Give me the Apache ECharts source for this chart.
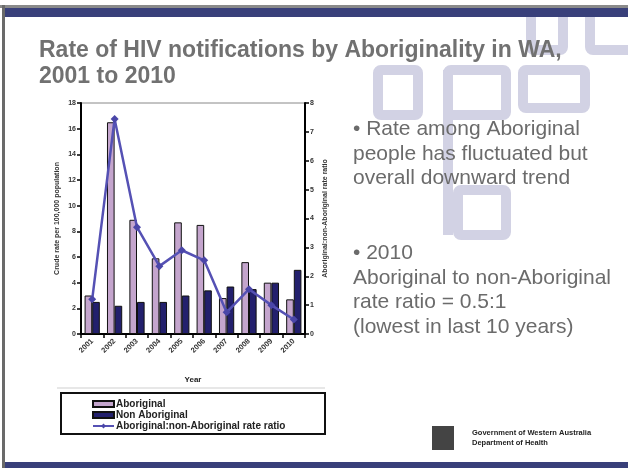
<!DOCTYPE html>
<html><head><meta charset="utf-8">
<script src="https://cdn.jsdelivr.net/npm/echarts@6/dist/echarts.min.js"></script>
<style>html,body{margin:0;padding:0;background:#fff}#c{width:628px;height:468px}</style>
</head><body><div id="c"></div>
<script>
const years = ['2001','2002','2003','2004','2005','2006','2007','2008','2009','2010'];
const aboriginal = [3.0, 16.5, 8.9, 5.9, 8.7, 8.5, 2.8, 5.6, 4.0, 2.7];
const nonAboriginal = [2.5, 2.2, 2.5, 2.5, 3.0, 3.4, 3.7, 3.5, 4.0, 5.0];
const rateRatio = [1.2, 7.45, 3.7, 2.35, 2.9, 2.55, 0.75, 1.55, 1.0, 0.5];
const leftTicks = {min: 0, max: 18, interval: 2};
const rightTicks = {min: 0, max: 8, interval: 1};
const title = ['Rate of HIV notifications by Aboriginality in WA,', '2001 to 2010'];
const bullets = ['\u2022 Rate among Aboriginal', 'people has fluctuated but', 'overall downward trend'];
const bullets2 = ['\u2022 2010', 'Aboriginal to non-Aboriginal', 'rate ratio = 0.5:1', '(lowest in last 10 years)'];

const chart = echarts.init(document.getElementById('c'), null, {renderer: 'canvas'});
const wm = '#d2d2e4';
function box(x, y, w, h) {
  return {type: 'rect', z: -10, shape: {x: x, y: y, width: w, height: h, r: 3},
    style: {fill: 'none', stroke: wm, lineWidth: 10}};
}
const gfx = [
  // slide frame
  {type: 'rect', shape: {x: 0, y: 5, width: 628, height: 3}, style: {fill: '#8a8a8a'}},
  {type: 'rect', shape: {x: 5, y: 8, width: 623, height: 9}, style: {fill: '#39407a'}},
  {type: 'rect', shape: {x: 2, y: 5, width: 3, height: 463}, style: {fill: '#6a6a6a'}},
  {type: 'rect', shape: {x: 5, y: 462, width: 623, height: 6}, style: {fill: '#39407a'}},
  // watermark shapes
  box(378, 70, 40, 45),
  box(448, 70, 58, 45),
  box(523, 70, 62, 38),
  box(458, 190, 48, 45),
  {type: 'rect', z: -10, shape: {x: 443, y: 70, width: 10, height: 165}, style: {fill: wm}},
  box(531, 10, 32, 40),
  box(590, 10, 50, 40),
  // title
  {type: 'text', left: 39, top: 39, style: {text: title[0], font: 'bold 23px "Liberation Sans", Arial', fill: '#717171'}},
  {type: 'text', left: 39, top: 65, style: {text: title[1], font: 'bold 23px "Liberation Sans", Arial', fill: '#717171'}},
  // legend box
  {type: 'rect', shape: {x: 61, y: 393, width: 264, height: 41}, style: {fill: 'none', stroke: '#111', lineWidth: 2}},
  {type: 'line', shape: {x1: 57, y1: 388, x2: 325, y2: 388}, style: {stroke: '#cfcfcf', lineWidth: 1}},
  // logo
  {type: 'rect', shape: {x: 432, y: 426, width: 22, height: 24}, style: {fill: '#444'}},
  {type: 'text', left: 472, top: 429, style: {text: 'Government of Western Australia', font: 'bold 7.5px "Liberation Sans", Arial', fill: '#222'}},
  {type: 'text', left: 472, top: 439, style: {text: 'Department of Health', font: 'bold 7.5px "Liberation Sans", Arial', fill: '#222'}}
];
bullets.forEach((t, i) => gfx.push({type: 'text', left: 353, top: 119 + i * 24.5,
  style: {text: t, font: '21px "Liberation Sans", Arial', fill: '#6b6b6b'}}));
bullets2.forEach((t, i) => gfx.push({type: 'text', left: 353, top: 243 + i * 24.5,
  style: {text: t, font: '21px "Liberation Sans", Arial', fill: '#6b6b6b'}}));

chart.setOption({
  animation: false,
  backgroundColor: '#fff',
  graphic: gfx,
  grid: {left: 81, right: 323, top: 103, bottom: 134, show: true, borderColor: '#888', borderWidth: 1},
  legend: {
    left: 87, top: 394, orient: 'vertical', itemGap: 1, itemWidth: 21, itemHeight: 6,
    textStyle: {fontSize: 10, fontWeight: 'bold', color: '#222', fontFamily: '"Liberation Sans", Arial', padding: [0, 0, 0, -3]},
    data: [
      {name: 'Aboriginal', icon: 'rect'},
      {name: 'Non Aboriginal', icon: 'rect'},
      {name: 'Aboriginal:non-Aboriginal rate ratio'}
    ]
  },
  xAxis: {
    type: 'category', data: years, boundaryGap: true,
    name: 'Year', nameLocation: 'middle', nameGap: 42,
    nameTextStyle: {fontSize: 8, fontWeight: 'bold', color: '#222'},
    axisLine: {lineStyle: {color: '#000', width: 2}},
    axisTick: {show: true, length: 4, lineStyle: {color: '#000', width: 1.5}},
    axisLabel: {rotate: 45, fontSize: 7.5, fontWeight: 'bold', color: '#333', margin: 6}
  },
  yAxis: [
    {type: 'value', min: leftTicks.min, max: leftTicks.max, interval: leftTicks.interval, position: 'left',
      name: 'Crude rate per 100,000 population', nameLocation: 'middle', nameGap: 20, nameRotate: 90,
      nameTextStyle: {fontSize: 7, fontWeight: 'bold', color: '#333'},
      axisLine: {show: true, lineStyle: {color: '#000', width: 2}},
      axisTick: {show: true, length: 4, lineStyle: {color: '#000', width: 1.5}},
      axisLabel: {fontSize: 7, fontWeight: 'bold', color: '#333', margin: 5},
      splitLine: {show: false}},
    {type: 'value', min: rightTicks.min, max: rightTicks.max, interval: rightTicks.interval, position: 'right',
      name: 'Aboriginal:non-Aboriginal rate ratio', nameLocation: 'middle', nameGap: 17, nameRotate: 90,
      nameTextStyle: {fontSize: 7, fontWeight: 'bold', color: '#333'},
      axisLine: {show: true, lineStyle: {color: '#000', width: 2}},
      axisTick: {show: true, length: 4, lineStyle: {color: '#000', width: 1.5}},
      axisLabel: {fontSize: 7, fontWeight: 'bold', color: '#333', margin: 5},
      splitLine: {show: false}}
  ],
  series: [
    {name: 'Aboriginal', type: 'bar', data: aboriginal, barGap: '0%', barCategoryGap: '32%',
      itemStyle: {color: '#c4a5cd', borderColor: '#111', borderWidth: 1}},
    {name: 'Non Aboriginal', type: 'bar', data: nonAboriginal,
      itemStyle: {color: '#23206d', borderColor: '#111', borderWidth: 1}},
    {name: 'Aboriginal:non-Aboriginal rate ratio', type: 'line', yAxisIndex: 1, data: rateRatio,
      symbol: 'diamond', symbolSize: 8, z: 5,
      lineStyle: {color: '#5551b4', width: 2.5}, itemStyle: {color: '#4a46a8'}}
  ]
});
</script></body></html>
